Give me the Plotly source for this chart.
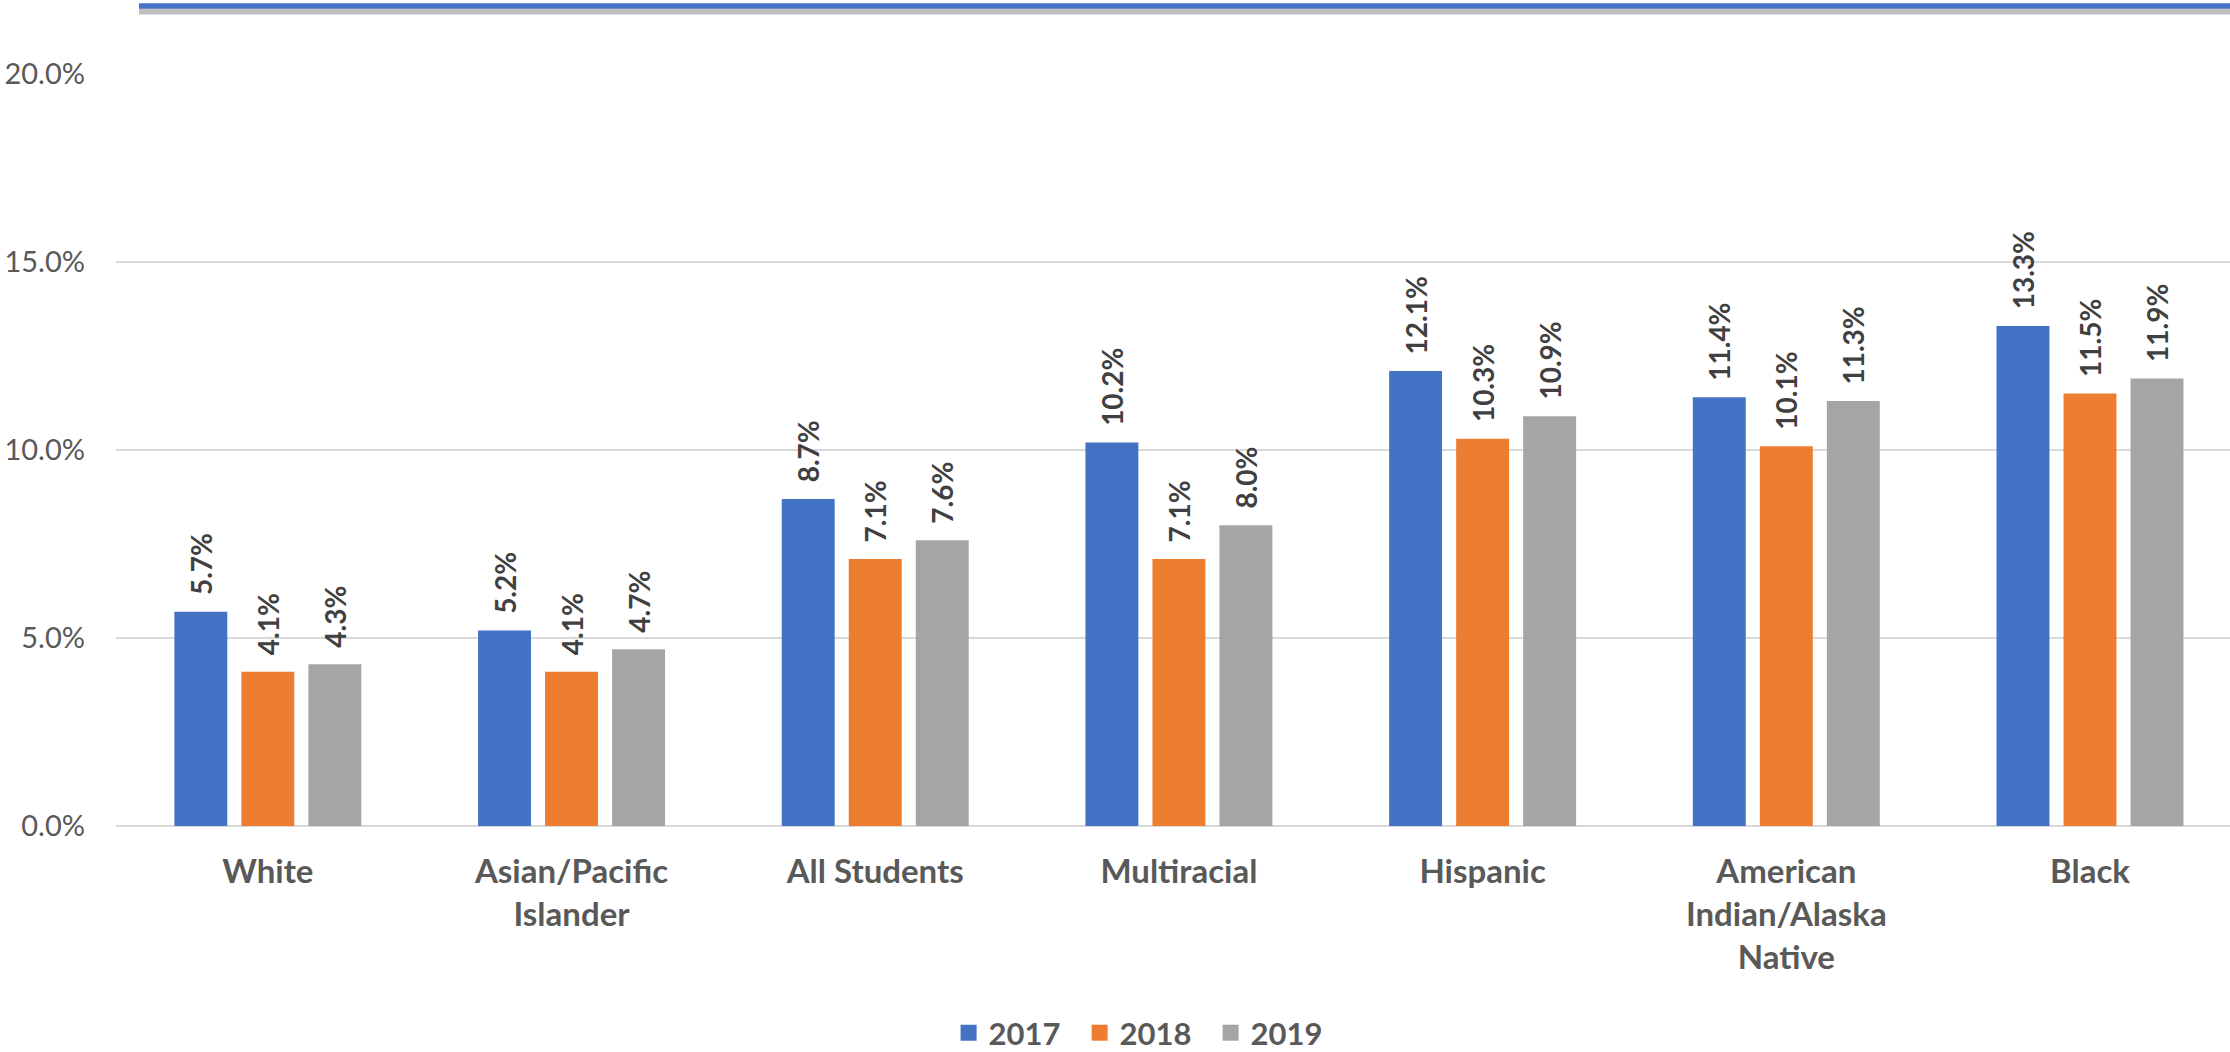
import plotly.graph_objects as go

categories = ["White", "Asian/Pacific<br>Islander", "All Students", "Multiracial",
              "Hispanic", "American<br>Indian/Alaska<br>Native", "Black"]
years = ["2017", "2018", "2019"]
values_2017 = [5.7, 5.2, 8.7, 10.2, 12.1, 11.4, 13.3]
values_2018 = [4.1, 4.1, 7.1, 7.1, 10.3, 10.1, 11.5]
values_2019 = [4.3, 4.7, 7.6, 8.0, 10.9, 11.3, 11.9]
y_ticks = [0, 5, 10, 15, 20]
y_tick_labels = ["0.0%", "5.0%", "10.0%", "15.0%", "20.0%"]

series = [values_2017, values_2018, values_2019]
colors = ["#4472C4", "#ED7D31", "#A5A5A5"]
FONT = "Lato"

fig = go.Figure()
for name, vals, col in zip(years, series, colors):
    fig.add_trace(go.Bar(
        x=categories, y=vals, name=name, marker=dict(color=col, line=dict(width=0)),
        texttemplate="\u00a0\u00a0%{y:.1f}%", textposition="outside", textangle=-90,
        constraintext="none", cliponaxis=False,
        outsidetextfont=dict(family=FONT, size=28, color="#404040", weight="bold"),
        showlegend=False, hoverinfo="skip",
    ))
# legend entries
for name, col in zip(years, colors):
    fig.add_trace(go.Scatter(
        x=[None], y=[None], mode="markers", name=name,
        marker=dict(symbol="square", size=16, color=col), showlegend=True,
    ))

# decorative top rule with shadow
fig.add_shape(type="line", xref="paper", yref="paper", x0=0.0109, x1=1.0,
              y0=1.0830, y1=1.0830, line=dict(color="rgba(0,0,0,0.25)", width=6), layer="above")
fig.add_shape(type="line", xref="paper", yref="paper", x0=0.0109, x1=1.0,
              y0=1.0904, y1=1.0904, line=dict(color="#4472C4", width=5.5), layer="above")

fig.update_layout(
    width=2230, height=1052,
    margin=dict(l=116, r=0, t=74, b=226, autoexpand=False),
    paper_bgcolor="white", plot_bgcolor="white",
    barmode="group", bargap=0.338, bargroupgap=0.21,
    font=dict(family=FONT, color="#595959"),
    legend=dict(orientation="h", xref="container", yref="container", x=0.5135, y=0.018,
                xanchor="center", yanchor="middle",
                font=dict(family=FONT, size=31, color="#595959", weight="bold"),
                entrywidth=86, entrywidthmode="pixels", itemsizing="trace"),
    xaxis=dict(range=[-0.5, 6.461], showgrid=False, showline=False, ticks="",
               tickfont=dict(family=FONT, size=33, color="#595959", weight="bold"),
               ticklabelstandoff=23),
    yaxis=dict(range=[0, 20], tickvals=y_ticks, ticktext=y_tick_labels,
               showgrid=True, gridcolor="#D9D9D9", gridwidth=2,
               zeroline=True, zerolinecolor="#D9D9D9", zerolinewidth=2,
               showline=False, ticks="",
               tickfont=dict(family=FONT, size=29, color="#595959"),
               ticklabelstandoff=30),
)

fig.write_html("out.html", config={"displayModeBar": False},
               post_script="document.body.style.margin='0';")
